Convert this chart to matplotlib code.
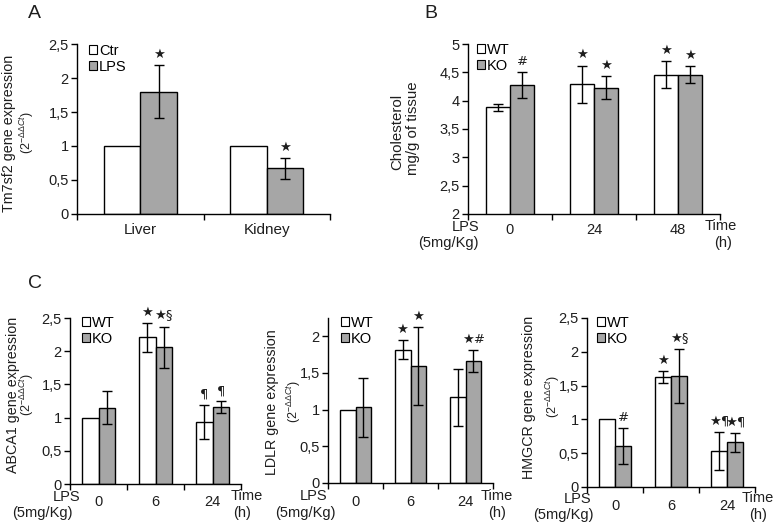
import numpy as np
import matplotlib
matplotlib.use("Agg")
import matplotlib.pyplot as plt
from matplotlib.patches import Patch

plt.rcParams['font.family'] = ['Liberation Sans', 'DejaVu Sans']
plt.rcParams['mathtext.fontset'] = 'custom'
plt.rcParams['mathtext.rm'] = 'Liberation Sans'
plt.rcParams['mathtext.it'] = 'Liberation Sans:italic'

W, H = 778, 527
GREY = '#a6a6a6'
TXT = '#1e1e1e'
nan = np.nan

# ---------------- data ----------------
a_cats = ["Liver", "Kidney"]
a_ctr = [1.0, 1.0]
a_ctr_err = [nan, nan]
a_lps = [1.80, 0.67]
a_lps_err = [0.395, 0.15]
a_ctr_ann = ["", ""]
a_lps_ann = ["★", "★"]

b_times = ["0", "24", "48"]
b_wt = [3.88, 4.29, 4.46]
b_wt_err = [0.06, 0.33, 0.245]
b_ko = [4.27, 4.23, 4.46]
b_ko_err = [0.23, 0.20, 0.15]
b_wt_ann = ["", "★", "★"]
b_ko_ann = ["#", "★", "★"]

c_times = ["0", "6", "24"]
abca1_wt = [1.0, 2.21, 0.94]
abca1_wt_err = [nan, 0.22, 0.255]
abca1_ko = [1.15, 2.06, 1.16]
abca1_ko_err = [0.25, 0.31, 0.085]
abca1_wt_ann = ["", "★", "¶"]
abca1_ko_ann = ["", "★§", "¶"]

ldlr_wt = [1.0, 1.82, 1.17]
ldlr_wt_err = [nan, 0.13, 0.39]
ldlr_ko = [1.03, 1.60, 1.66]
ldlr_ko_err = [0.40, 0.53, 0.15]
ldlr_wt_ann = ["", "★", ""]
ldlr_ko_ann = ["", "★", "★#"]

hmgcr_wt = [1.0, 1.63, 0.53]
hmgcr_wt_err = [nan, 0.085, 0.285]
hmgcr_ko = [0.61, 1.64, 0.66]
hmgcr_ko_err = [0.265, 0.40, 0.145]
hmgcr_wt_ann = ["", "★", "★¶"]
hmgcr_ko_ann = ["#", "★§", "★¶"]

expr_ticks = [0, 0.5, 1, 1.5, 2, 2.5]
expr_ticklabels = ["0", "0,5", "1", "1,5", "2", "2,5"]
ldlr_ticks = [0, 0.5, 1, 1.5, 2]
ldlr_ticklabels = ["0", "0,5", "1", "1,5", "2"]
chol_ticks = [2, 2.5, 3, 3.5, 4, 4.5, 5]
chol_ticklabels = ["2", "2,5", "3", "3,5", "4", "4,5", "5"]

# ---------------- figure ----------------
fig = plt.figure(figsize=(W / 100, H / 100), dpi=100)
fig.patch.set_facecolor('white')

YL = 10.3   # y-label font size
SUPS = 9.0  # superscript-line font size


def fx(px):
    return px / W


def fy(py):
    return 1 - py / H


def ftext(x, y, s, **kw):
    kw.setdefault('color', TXT)
    kw.setdefault('ha', 'center')
    kw.setdefault('va', 'center')
    return fig.text(fx(x), fy(y), s, **kw)


def panel(box, cats, s1, e1, s2, e2, ann1, ann2, names, ylim, yticks,
          yticklabels, leg_xy, catsize=10.5, catpad=6.5):
    l, t, r, b = box
    ax = fig.add_axes([fx(l), fy(b), fx(r - l), (b - t) / H])
    n = len(cats)
    x = np.arange(n)
    w = 0.29
    s1 = np.asarray(s1, float); s2 = np.asarray(s2, float)
    e1 = np.asarray(e1, float); e2 = np.asarray(e2, float)
    ax.bar(x - w / 2, s1, w, color='white', edgecolor='black', linewidth=1.0, zorder=2)
    ax.bar(x + w / 2, s2, w, color=GREY, edgecolor='black', linewidth=1.0, zorder=2)
    for xs, vals, errs in ((x - w / 2, s1, e1), (x + w / 2, s2, e2)):
        m = ~np.isnan(errs)
        if m.any():
            ax.errorbar(xs[m], vals[m], yerr=errs[m], fmt='none', ecolor='black',
                        elinewidth=1.0, capsize=3.5, capthick=1.0, zorder=3)
    for xs, vals, errs, anns in ((x - w / 2, s1, e1, ann1), (x + w / 2, s2, e2, ann2)):
        for xi, v, e, a in zip(xs, vals, errs, anns):
            if a:
                top = v + (0 if np.isnan(e) else e)
                ax.annotate(a, (xi, top), xytext=(0, 3), textcoords='offset points',
                            ha='center', va='bottom', fontsize=9.5, color=TXT,
                            family=['DejaVu Sans'])
    ax.set_xlim(-0.5, n - 0.5)
    ax.set_ylim(*ylim)
    ax.set_yticks(yticks)
    ax.set_yticklabels(yticklabels)
    ax.set_xticks(x)
    ax.set_xticklabels(cats)
    ax.set_xticks(np.arange(n + 1) - 0.5, minor=True)
    ax.tick_params(axis='x', which='major', length=0, pad=catpad, labelsize=catsize,
                   labelcolor=TXT)
    ax.tick_params(axis='x', which='minor', length=4, width=1.0, direction='out')
    ax.tick_params(axis='y', length=4, width=1.0, direction='out', labelsize=10.5,
                   labelcolor=TXT, pad=2)
    for sp in ('top', 'right'):
        ax.spines[sp].set_visible(False)
    for sp in ('left', 'bottom'):
        ax.spines[sp].set_linewidth(1.0)
    handles = [Patch(facecolor='white', edgecolor='black', linewidth=0.8),
               Patch(facecolor=GREY, edgecolor='black', linewidth=0.8)]
    ax.legend(handles, names, loc='upper left',
              bbox_to_anchor=(fx(leg_xy[0]), fy(leg_xy[1])),
              bbox_transform=fig.transFigure, frameon=False, fontsize=10.5,
              handlelength=0.55, handleheight=0.55, handletextpad=0.15,
              labelspacing=0.12, borderpad=0, borderaxespad=0)
    return ax


SUP = r"(2$^{-\Delta\Delta Ct}$)"

# Panel A
panel((77, 44, 330, 214), a_cats, a_ctr, a_ctr_err, a_lps, a_lps_err,
      a_ctr_ann, a_lps_ann, ["Ctr", "LPS"], (0, 2.5), expr_ticks, expr_ticklabels,
      (89, 44), catsize=11, catpad=6.5)
ftext(34, 13, "A", fontsize=14)
ftext(9, 133, "Tm7sf2 gene expression", rotation=90, fontsize=YL)
ftext(27, 133, SUP, rotation=90, fontsize=SUPS)

# Panel B
panel((468, 44, 720, 214), b_times, b_wt, b_wt_err, b_ko, b_ko_err,
      b_wt_ann, b_ko_ann, ["WT", "KO"], (2, 5), chol_ticks, chol_ticklabels,
      (477, 43), catsize=10.5, catpad=6.5)
ftext(431, 13, "B", fontsize=14)
ftext(397, 132, "Cholesterol", rotation=90, fontsize=10.8)
ftext(413, 128, "mg/g of tissue", rotation=90, fontsize=10.8)
ftext(466, 227, "LPS", fontsize=10.5)
ftext(448, 243, "(5mg/Kg)", fontsize=10.5)
ftext(721, 226, "Time", fontsize=10.5)
ftext(723, 243, "(h)", fontsize=10.5)

# Panel C
ftext(35, 284, "C", fontsize=14)

panel((70, 318, 241, 484), c_times, abca1_wt, abca1_wt_err, abca1_ko, abca1_ko_err,
      abca1_wt_ann, abca1_ko_ann, ["WT", "KO"], (0, 2.5), expr_ticks, expr_ticklabels,
      (82, 316), catsize=10.5, catpad=8)
ftext(13, 395, "ABCA1 gene expression", rotation=90, fontsize=YL)
ftext(27, 395, SUP, rotation=90, fontsize=SUPS)
ftext(67, 497, "LPS", fontsize=10.5)
ftext(42, 513, "(5mg/Kg)", fontsize=10.5)
ftext(247, 496, "Time", fontsize=10.5)
ftext(242, 513, "(h)", fontsize=10.5)

panel((328, 318, 493, 483), c_times, ldlr_wt, ldlr_wt_err, ldlr_ko, ldlr_ko_err,
      ldlr_wt_ann, ldlr_ko_ann, ["WT", "KO"], (0, 2.25), ldlr_ticks, ldlr_ticklabels,
      (341, 316), catsize=10.5, catpad=9)
ftext(272, 402, "LDLR gene expression", rotation=90, fontsize=YL)
ftext(294, 402, SUP, rotation=90, fontsize=SUPS)
ftext(314, 496, "LPS", fontsize=10.5)
ftext(305, 513, "(5mg/Kg)", fontsize=10.5)
ftext(497, 496, "Time", fontsize=10.5)
ftext(497, 513, "(h)", fontsize=10.5)

panel((587, 318, 755, 487), c_times, hmgcr_wt, hmgcr_wt_err, hmgcr_ko, hmgcr_ko_err,
      hmgcr_wt_ann, hmgcr_ko_ann, ["WT", "KO"], (0, 2.5), expr_ticks, expr_ticklabels,
      (597, 316), catsize=10.5, catpad=9)
ftext(529, 397, "HMGCR gene expression", rotation=90, fontsize=YL)
ftext(553, 397, SUP, rotation=90, fontsize=SUPS)
ftext(578, 499, "LPS", fontsize=10.5)
ftext(563, 515, "(5mg/Kg)", fontsize=10.5)
ftext(758, 498, "Time", fontsize=10.5)
ftext(758, 515, "(h)", fontsize=10.5)

fig.savefig("out.png", dpi=100, facecolor='white')
